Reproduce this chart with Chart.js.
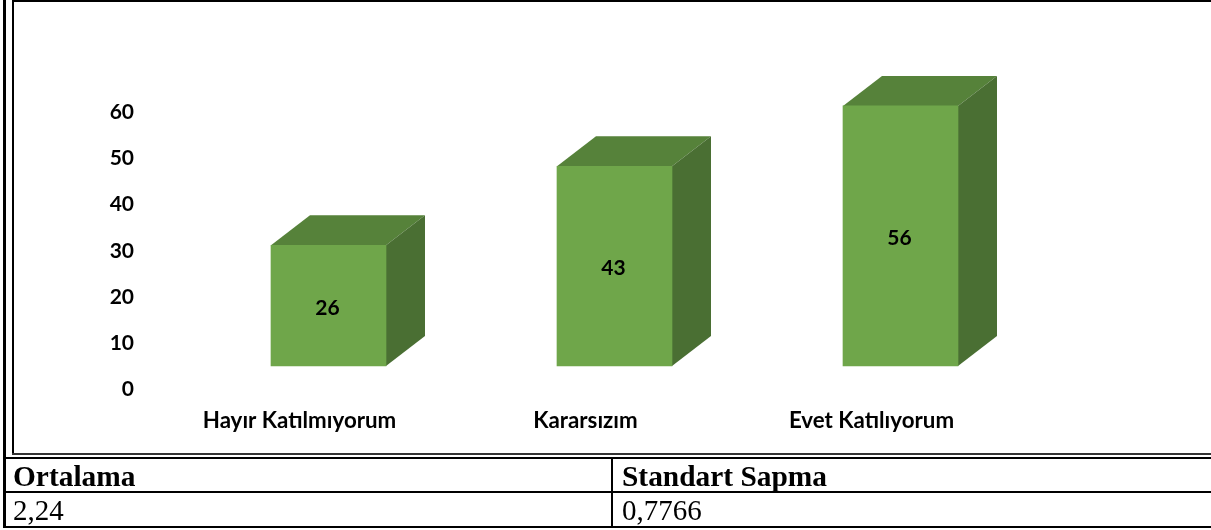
<!DOCTYPE html>
<html>
<head>
<meta charset="utf-8">
<style>
html,body{margin:0;padding:0;background:#fff;width:1211px;height:530px;overflow:hidden}
#c{position:absolute;left:0;top:0}
.l{position:absolute;background:#000}
.t{position:absolute;font-family:"Liberation Serif",serif;font-size:29px;line-height:34px;color:#000;white-space:nowrap}
.b{font-weight:bold;font-size:29.4px}
</style>
</head>
<body>
<canvas id="c" width="1211" height="530"></canvas>
<div class="l" style="left:3px;top:0;width:3px;height:528px"></div>
<div class="l" style="left:12px;top:0;width:2px;height:455px"></div>
<div class="l" style="left:14px;top:0;width:1197px;height:2px"></div>
<div class="l" style="left:12px;top:453px;width:1199px;height:2px;background:#333"></div>
<div class="l" style="left:3px;top:457px;width:1208px;height:2px"></div>
<div class="l" style="left:3px;top:491px;width:1208px;height:2px"></div>
<div class="l" style="left:3px;top:526px;width:1208px;height:2px"></div>
<div class="l" style="left:611px;top:457px;width:2px;height:71px"></div>
<div class="t b" style="left:13px;top:459px">Ortalama</div>
<div class="t b" style="left:622px;top:459px">Standart Sapma</div>
<div class="t" style="left:13px;top:493px">2,24</div>
<div class="t" style="left:622px;top:493px">0,7766</div>
<script src="https://cdn.jsdelivr.net/npm/chart.js@4/dist/chart.umd.min.js"></script>
<script>
const categories = ["Hayır Katılmıyorum", "Kararsızım", "Evet Katılıyorum"];
const values = [26, 43, 56];
const yTicks = [0, 10, 20, 30, 40, 50, 60];

const FRONT = "#6fa64a", TOP = "#56823a", SIDE = "#4a6f33";
const DX = 39, DY = 30;
const family = 'Lato, "Open Sans", sans-serif';

const prism = {
  id: "prism",
  beforeDatasetsDraw(chart) {
    const ctx = chart.ctx;
    chart.getDatasetMeta(0).data.forEach(b => {
      const l = b.x - b.width / 2, r = b.x + b.width / 2, t = b.y, bt = b.base;
      ctx.fillStyle = TOP;
      ctx.beginPath();
      ctx.moveTo(l, t); ctx.lineTo(l + DX, t - DY); ctx.lineTo(r + DX, t - DY); ctx.lineTo(r, t);
      ctx.closePath(); ctx.fill();
      ctx.fillStyle = SIDE;
      ctx.beginPath();
      ctx.moveTo(r, t); ctx.lineTo(r + DX, t - DY); ctx.lineTo(r + DX, bt - DY); ctx.lineTo(r, bt);
      ctx.closePath(); ctx.fill();
    });
  },
  afterDatasetsDraw(chart) {
    const ctx = chart.ctx;
    ctx.save();
    ctx.fillStyle = "#000";
    ctx.font = "bold 21px " + family;
    ctx.textAlign = "center";
    ctx.textBaseline = "middle";
    chart.getDatasetMeta(0).data.forEach((b, i) => {
      ctx.fillText(String(values[i]), b.x - 1, (b.y + b.base) / 2 + 2.5);
    });
    ctx.restore();
  }
};

new Chart(document.getElementById("c"), {
  type: "bar",
  data: {
    labels: categories,
    datasets: [{ data: values, backgroundColor: FRONT, barThickness: 115, yAxisID: "y", borderWidth: 0 }]
  },
  options: {
    responsive: false,
    animation: false,
    layout: { padding: { left: 0, right: 167.5, top: 90, bottom: 0 } },
    plugins: { legend: { display: false }, tooltip: { enabled: false } },
    scales: {
      x: {
        grid: { display: false, drawTicks: false },
        border: { display: false },
        ticks: { color: "#000", font: { family, size: 22.3, weight: "bold" }, labelOffset: -29, padding: 7, autoSkip: false, maxRotation: 0 },
        afterFit(a) { a.height = 130; }
      },
      y: { display: false, min: -7.32, max: 59.42 },
      yLabels: {
        position: "left",
        min: -2.37, max: 64.87,
        grid: { display: false, drawTicks: false },
        border: { display: false },
        ticks: { color: "#000", font: { family, size: 21, weight: "bold" }, padding: 51.5 },
        afterBuildTicks(a) { a.ticks = yTicks.map(v => ({ value: v })); },
        afterFit(a) { a.width = 185.5; }
      }
    }
  },
  plugins: [prism, { id: "bg", beforeDraw(c) { c.ctx.save(); c.ctx.fillStyle = "#fff"; c.ctx.fillRect(0, 0, c.width, c.height); c.ctx.restore(); } }]
});
</script>
</body>
</html>
